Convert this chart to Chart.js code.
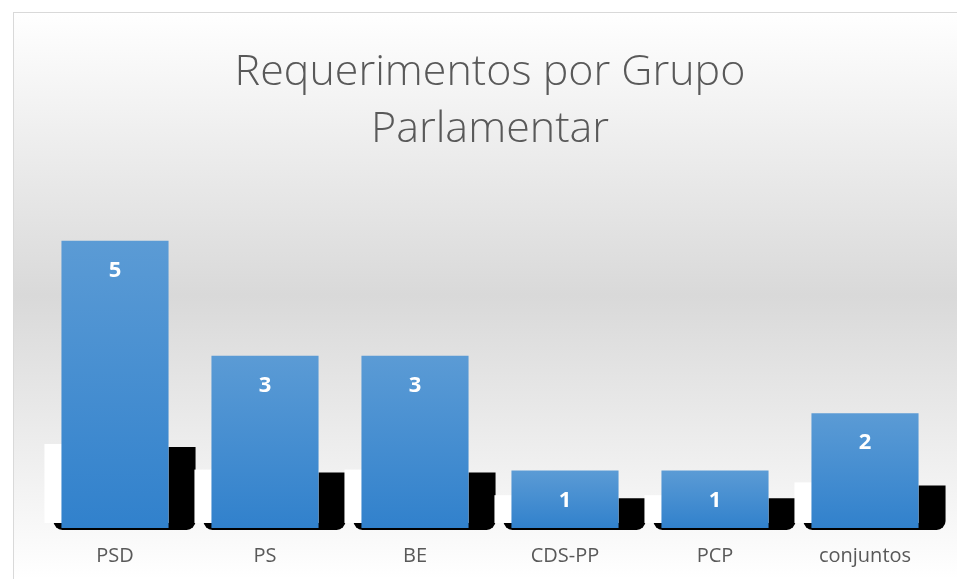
<!DOCTYPE html>
<html>
<head>
<meta charset="utf-8">
<script src="https://cdn.jsdelivr.net/npm/chart.js@4/dist/chart.umd.min.js"></script>
<style>
  html, body { margin: 0; padding: 0; background: #fff; }
  #wrap { width: 957px; height: 579px; position: relative; }
</style>
</head>
<body>
<div id="wrap"><canvas id="myChart" width="957" height="579"></canvas></div>
<script>
// dados do gráfico
var grupos = ['PSD', 'PS', 'BE', 'CDS-PP', 'PCP', 'conjuntos'];
var requerimentos = [5, 3, 3, 1, 1, 2];
var titulo = ['Requerimentos por Grupo', 'Parlamentar'];

var ctx = document.getElementById('myChart').getContext('2d');

// fundo com gradiente e moldura cinzenta
var fundo = {
    id: 'fundo',
    beforeDraw: function(chart) {
        var c = chart.ctx;
        c.save();
        c.fillStyle = '#ffffff';
        c.fillRect(0, 0, chart.width, chart.height);
        var g = c.createLinearGradient(0, 12, 0, chart.height);
        g.addColorStop(0, '#ffffff');
        g.addColorStop(0.5, '#d9d9d9');
        g.addColorStop(1, '#ffffff');
        c.fillStyle = g;
        c.fillRect(13, 12, chart.width - 13, chart.height - 12);
        c.strokeStyle = '#d9d9d9';
        c.lineWidth = 1;
        c.strokeRect(13.5, 12.5, chart.width, chart.height);
        c.restore();
    }
};

// sombra estranha por trás das barras (como no original)
var sombra = {
    id: 'sombra',
    beforeDatasetsDraw: function(chart) {
        var c = chart.ctx;
        var meta = chart.getDatasetMeta(0);
        c.save();
        meta.data.forEach(function(bar) {
            var left = bar.x - bar.width / 2;
            var right = bar.x + bar.width / 2;
            var h = 0.223 * (bar.base - bar.y) + 17;
            var top = bar.base - h;
            c.fillStyle = '#000000';
            c.beginPath();
            c.roundRect(left - 8, top, right + 27 - (left - 8), h + 2, [0, 0, 9, 9]);
            c.fill();
            c.fillStyle = '#ffffff';
            c.fillRect(left - 17, top - 3, right - (left - 17), h - 2);
        });
        c.restore();
    }
};

// rótulos brancos dentro das barras
var rotulos = {
    id: 'rotulos',
    afterDatasetsDraw: function(chart) {
        var c = chart.ctx;
        var meta = chart.getDatasetMeta(0);
        c.save();
        c.fillStyle = '#ffffff';
        c.font = 'bold 22px "Open Sans"';
        c.textAlign = 'center';
        c.textBaseline = 'middle';
        meta.data.forEach(function(bar, i) {
            c.fillText(String(requerimentos[i]), bar.x, bar.y + 30);
        });
        c.restore();
    }
};

var chart = new Chart(ctx, {
    type: 'bar',
    data: {
        labels: grupos,
        datasets: [{
            data: requerimentos,
            backgroundColor: function(context) {
                var ch = context.chart;
                if (!ch.chartArea || context.type !== 'data') return '#4a8ed3';
                var y = ch.scales.y;
                var top = y.getPixelForValue(context.raw);
                var bottom = y.getPixelForValue(0);
                var g = ch.ctx.createLinearGradient(0, top, 0, bottom);
                g.addColorStop(0, '#5b9bd5');
                g.addColorStop(1, '#3181cc');
                return g;
            },
            borderWidth: 0,
            categoryPercentage: 1,
            barPercentage: 0.714
        }]
    },
    options: {
        responsive: false,
        animation: false,
        layout: { padding: { left: 40, right: 17, top: 44, bottom: -5 } },
        plugins: {
            legend: { display: false },
            tooltip: { enabled: false },
            title: {
                display: true,
                text: titulo,
                color: '#595959',
                font: { family: 'Open Sans', size: 43, weight: '300', lineHeight: 1.33 },
                padding: { top: 0, bottom: 25 }
            }
        },
        scales: {
            x: {
                grid: { display: false, drawTicks: false },
                border: { display: false },
                ticks: {
                    color: '#595959',
                    font: { family: 'Open Sans', size: 20 },
                    padding: 16
                }
            },
            y: {
                display: false,
                min: 0,
                max: 6
            }
        }
    },
    plugins: [fundo, sombra, rotulos]
});
</script>
</body>
</html>
